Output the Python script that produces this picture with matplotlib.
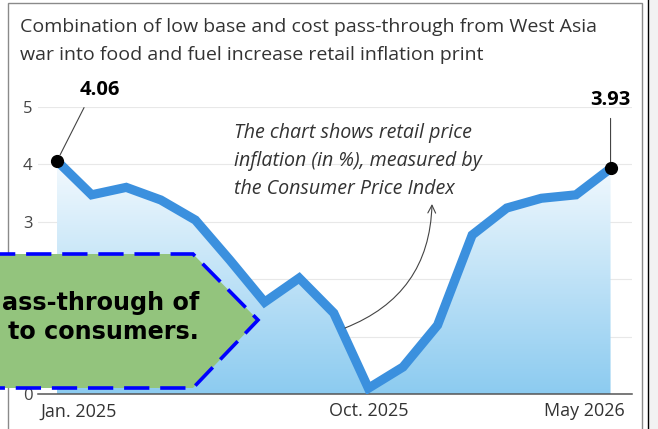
import matplotlib
matplotlib.use('Agg')
import matplotlib.pyplot as plt
import numpy as np
from matplotlib.patches import Polygon, Rectangle
from matplotlib.colors import LinearSegmentedColormap
import matplotlib.transforms as mtransforms

# ---------------- data ----------------
months = ['Jan. 2025', 'Feb. 2025', 'Mar. 2025', 'Apr. 2025', 'May 2025', 'Jun. 2025',
          'Jul. 2025', 'Aug. 2025', 'Sep. 2025', 'Oct. 2025', 'Nov. 2025', 'Dec. 2025',
          'Jan. 2026', 'Feb. 2026', 'Mar. 2026', 'Apr. 2026', 'May 2026']
inflation = [4.06, 3.47, 3.60, 3.38, 3.03, 2.33, 1.60, 2.02, 1.41, 0.10,
             0.47, 1.20, 2.77, 3.24, 3.41, 3.47, 3.93]
tick_months = ['Jan. 2025', 'Oct. 2025', 'May 2026']
yticks = [0, 1, 2, 3, 4, 5]
ytick_labels = ['0', '', '', '3', '4', '5']   # 1 and 2 are hidden behind the callout box
title_lines = ['Combination of low base and cost pass-through from West Asia',
               'war into food and fuel increase retail inflation print']
note_lines = ['The chart shows retail price',
              'inflation (in %), measured by',
              'the Consumer Price Index']
callout_lines = ['ass-through of', 'to consumers.']

# ---------------- layout helpers ----------------
W, H = 658, 429
fig = plt.figure(figsize=(W / 100, H / 100), dpi=100)
fig.patch.set_facecolor('white')


def fx(px):
    return px / W


def fy(py):
    return 1 - py / H


TXT = '#333333'
FONT = 'Open Sans'

ax = fig.add_axes([fx(38), fy(394), fx(632) - fx(38), fy(107) - fy(394)])
x = np.arange(len(inflation))

# gradient fill under the line
poly = ax.fill_between(x, inflation, 0, color='none', lw=0)
cmap = LinearSegmentedColormap.from_list('g', ['#8ccbf0', '#f4fafe'])
grad = np.linspace(0, 1, 256).reshape(-1, 1)
im = ax.imshow(grad, cmap=cmap, extent=[x[0], x[-1], 0, max(inflation)],
               origin='lower', aspect='auto', zorder=1, interpolation='bilinear')
im.set_clip_path(poly.get_paths()[0], transform=ax.transData)

ax.plot(x, inflation, color='#3b90de', lw=6.6, solid_joinstyle='miter',
        solid_capstyle='butt', zorder=3)
ax.plot([x[0], x[-1]], [inflation[0], inflation[-1]], 'o', color='black',
        ms=8.5, zorder=5, clip_on=False)

ax.set_xlim(-0.55, 16.62)
ax.set_ylim(0, 5)

for s in ['top', 'right', 'left']:
    ax.spines[s].set_visible(False)
ax.spines['bottom'].set_color('#555555')
ax.spines['bottom'].set_linewidth(1.1)
ax.set_yticks(yticks)
ax.set_yticklabels(ytick_labels, fontsize=12, color='#444444', family=FONT)
ax.grid(axis='y', color='#e8e8e8', lw=0.8, zorder=0)
ax.set_axisbelow(True)
ax.tick_params(axis='y', length=0, pad=4)
ax.tick_params(axis='x', length=0, pad=6)

tick_pos = [months.index(m) for m in tick_months]
ax.set_xticks(tick_pos)
ax.set_xticklabels(tick_months, fontsize=13, color=TXT, family=FONT)
labs = ax.get_xticklabels()
labs[0].set_ha('left')
labs[0].set_transform(labs[0].get_transform() + mtransforms.ScaledTranslation(-0.17, 0, fig.dpi_scale_trans))
labs[-1].set_ha('right')
labs[-1].set_transform(labs[-1].get_transform() + mtransforms.ScaledTranslation(0.14, 0, fig.dpi_scale_trans))

# value labels with leader lines
ax.annotate(f'{inflation[0]:.2f}', xy=(x[0], inflation[0]), xytext=(31, 44),
            textcoords='offset points', ha='center', va='bottom', fontsize=14.5,
            fontweight='bold', family=FONT, color='black', annotation_clip=False,
            arrowprops=dict(arrowstyle='-', color='#444444', lw=0.8,
                            relpos=(0.2, 0), shrinkA=4, shrinkB=5))
ax.annotate(f'{inflation[-1]:.2f}', xy=(x[-1], inflation[-1]), xytext=(0, 42),
            textcoords='offset points', ha='center', va='bottom', fontsize=14.5,
            fontweight='bold', family=FONT, color='black', annotation_clip=False,
            arrowprops=dict(arrowstyle='-', color='#444444', lw=0.8,
                            relpos=(0.5, 0), shrinkA=4, shrinkB=3))

# title
fig.text(fx(20), fy(32), title_lines[0], fontsize=14, color=TXT, family=FONT, va='baseline')
fig.text(fx(20), fy(60), title_lines[1], fontsize=14, color=TXT, family=FONT, va='baseline')

# italic note
for i, ln in enumerate(note_lines):
    fig.text(fx(234), fy(138 + 28 * i), ln, fontsize=14.1, style='italic',
             color=TXT, family=FONT, va='baseline')

# curved arrow
ax.annotate('', xy=(fx(432), fy(204)), xycoords='figure fraction',
            xytext=(fx(345), fy(328)), textcoords='figure fraction',
            arrowprops=dict(arrowstyle='->', color='#444444', lw=0.8,
                            connectionstyle='arc3,rad=0.33', shrinkA=0, shrinkB=0,
                            mutation_scale=14))

# green callout box
pts = [(-10, 254), (193, 254), (258, 320), (193, 388), (-10, 388)]
box = Polygon([(fx(a), fy(b)) for a, b in pts], closed=True, transform=fig.transFigure,
              facecolor='#93c47d', edgecolor='#0000ff', lw=2.6,
              linestyle=(0, (7, 3)), zorder=10)
fig.patches.append(box)
fig.text(fx(199), fy(303), callout_lines[0], fontsize=17.2, fontweight='bold',
         color='black', ha='right', va='center', zorder=11, family='DejaVu Sans')
fig.text(fx(199), fy(332), callout_lines[1], fontsize=17.2, fontweight='bold',
         color='black', ha='right', va='center', zorder=11, family='DejaVu Sans')

# frame
frame = Rectangle((fx(8), fy(440)), fx(642) - fx(8), fy(3) - fy(440),
                  transform=fig.transFigure, fill=False, edgecolor='#8a8a8a', lw=1.0, zorder=0)
fig.patches.append(frame)
side = Rectangle((fx(648), 0), fx(660) - fx(648), 1, transform=fig.transFigure,
                 facecolor='#f2f2f2', edgecolor='none', zorder=0)
fig.patches.append(side)
fig.add_artist(plt.Line2D([fx(648), fx(648)], [0, 1], transform=fig.transFigure,
                          color='black', lw=1.0))

fig.savefig('out.png', dpi=100)
